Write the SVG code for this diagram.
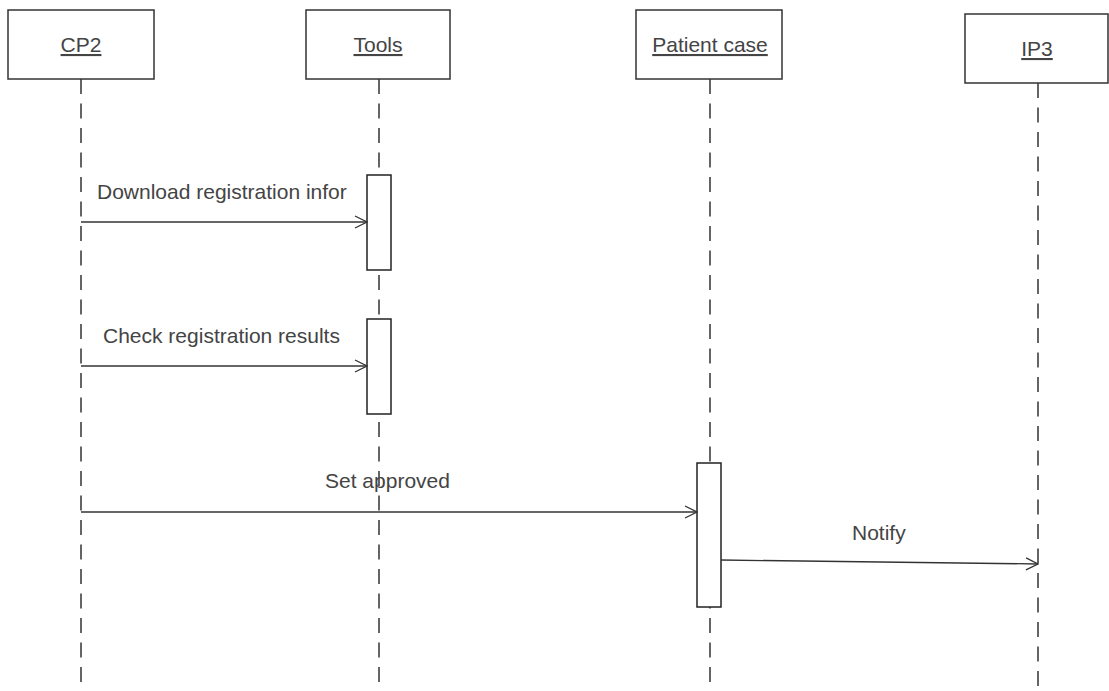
<svg xmlns="http://www.w3.org/2000/svg" width="1109" height="691" viewBox="0 0 1109 691">
  <style>
    .head { fill: #ffffff; stroke: #333333; stroke-width: 1.5; }
    .lifeline { stroke: #333333; stroke-width: 1.5; stroke-dasharray: 15 9.5; fill: none; }
    .act { fill: #ffffff; stroke: #222222; stroke-width: 1.5; }
    .msg { stroke: #333333; stroke-width: 1.3; fill: none; marker-end: url(#open); }
    .name { font-family: "Liberation Sans", Arial, sans-serif; font-size: 21px; fill: #444444; text-anchor: middle; text-decoration: underline; }
    .label { font-family: "Liberation Sans", Arial, sans-serif; font-size: 21px; fill: #444444; }
  </style>
  <defs>
    <marker id="open" viewBox="0 0 14 14" refX="13" refY="7" markerWidth="14" markerHeight="14" markerUnits="userSpaceOnUse" orient="auto">
      <path d="M1,1 L13,7 L1,13" fill="none" stroke="#333333" stroke-width="1.3"/>
    </marker>
  </defs>

  <rect width="1109" height="691" fill="#ffffff"/>

  <!-- participants: head box, lifeline, activation bars -->
  <g id="cp2">
    <line class="lifeline" x1="81" y1="79" x2="81" y2="691"/>
    <rect class="head" x="8" y="10" width="146" height="69"/>
    <text class="name" x="81" y="52">CP2</text>
  </g>

  <g id="tools">
    <line class="lifeline" x1="379" y1="79" x2="379" y2="691"/>
    <rect class="head" x="306" y="10" width="144" height="69"/>
    <text class="name" x="378" y="52">Tools</text>
    <rect class="act" x="367" y="175" width="24" height="95"/>
    <rect class="act" x="367" y="319" width="24" height="95"/>
  </g>

  <g id="patient-case">
    <line class="lifeline" x1="710" y1="79" x2="710" y2="691"/>
    <rect class="head" x="636" y="10" width="146" height="69"/>
    <text class="name" x="710" y="52">Patient case</text>
    <rect class="act" x="697" y="463" width="24" height="144"/>
  </g>

  <g id="ip3">
    <line class="lifeline" x1="1038" y1="83" x2="1038" y2="691"/>
    <rect class="head" x="965" y="14" width="143" height="69"/>
    <text class="name" x="1037" y="56">IP3</text>
  </g>

  <!-- messages -->
  <g id="connectors">
    <line class="msg" x1="81" y1="222" x2="367" y2="222"/>
    <text class="label" x="97" y="199">Download registration infor</text>

    <line class="msg" x1="81" y1="366" x2="367" y2="366"/>
    <text class="label" x="103" y="343">Check registration results</text>

    <line class="msg" x1="81" y1="512" x2="697" y2="512"/>
    <text class="label" x="325" y="488">Set approved</text>

    <line class="msg" x1="721" y1="560" x2="1038" y2="564"/>
    <text class="label" x="852" y="540">Notify</text>
  </g>
</svg>
